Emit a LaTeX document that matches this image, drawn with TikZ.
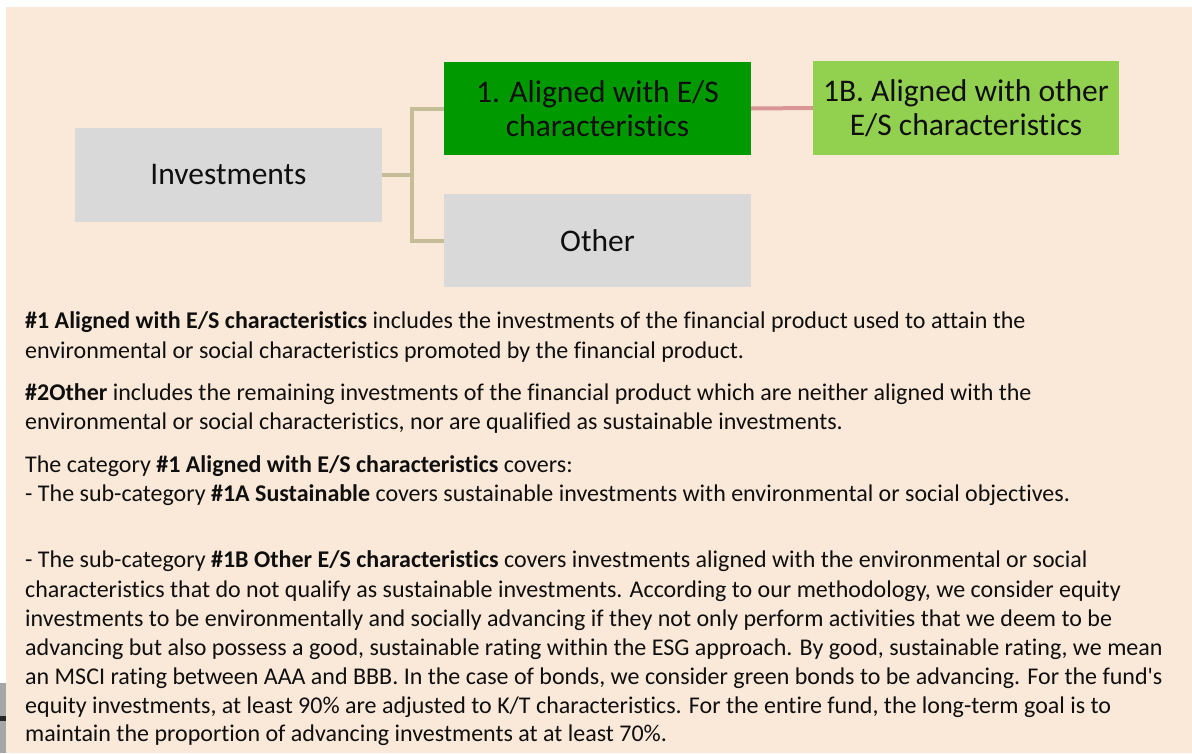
\documentclass[tikz,border=0pt]{standalone}
\usepackage{fontspec}
\setmainfont{Carlito}[Ligatures={CommonOff,TeXOff}]
\usetikzlibrary{calc}
\definecolor{bgpeach}{RGB}{250,232,216}
\definecolor{boxgray}{RGB}{217,217,217}
\definecolor{darkgreen}{RGB}{0,153,0}
\definecolor{lightgreen}{RGB}{146,208,80}
\definecolor{tanline}{RGB}{196,189,151}
\definecolor{pinkline}{RGB}{217,150,148}
\definecolor{txt}{RGB}{15,15,15}
\begin{document}
\begin{tikzpicture}[x=1pt,y=-1pt,
  boxnode/.style={minimum width=307pt,minimum height=93pt,inner sep=0pt,align=center,
    text=txt,font=\fontsize{31.5}{33.5}\selectfont},
  bodyline/.style={anchor=base west,inner sep=0pt,text=txt,font=\fontsize{24}{29}\selectfont},
  tanconn/.style={draw=tanline,line width=4pt},
  pinkconn/.style={draw=pinkline,line width=4pt}]
\useasboundingbox (0,0) rectangle (1192,753);
\fill[white] (0,0) rectangle (1192,753);
\fill[bgpeach] (6,7) rectangle (1192,753);
% small flag fragment at bottom left
\fill[gray!70] (0,683) rectangle (6,753);
\fill[gray!30!black] (0,716) rectangle (6,721);

\node[boxnode,fill=boxgray,minimum height=94pt] (inv) at (228.5,174.5) {Investments};
\node[boxnode,fill=darkgreen] (al) at (597.5,108.5) {1. Aligned with E/S\\characteristics};
\node[boxnode,fill=boxgray] (oth) at (597.5,240.5) {Other};
\node[boxnode,fill=lightgreen,minimum width=306pt,minimum height=94pt] (b1) at (966,108) {1B. Aligned with other\\E/S characteristics};

\coordinate (j) at ($(inv.east)+(30,0)$);
\draw[tanconn] (inv.east) -- (j);
\draw[tanconn] (al.west) -| (j) |- (oth.west);
\draw[pinkconn] (al.east) -- (b1.west);

\node[bodyline] (t1) at (25,328) {\textbf{\#1 Aligned with E/S characteristics} includes the investments of the financial product used to attain the};
\node[bodyline] (t2) at (25,358) {environmental or social characteristics promoted by the financial product.};
\node[bodyline] (t3) at (25,400) {\textbf{\#2Other} includes the remaining investments of the financial product which are neither aligned with the};
\node[bodyline] (t4) at (25,429) {environmental or social characteristics, nor are qualified as sustainable investments.};
\node[bodyline] (t5) at (25,472) {The category \textbf{\#1 Aligned with E/S characteristics} covers:};
\node[bodyline] (t6) at (25,501) {- The sub-category \textbf{\#1A Sustainable} covers sustainable investments with environmental or social objectives.};
\node[bodyline] (t7) at (25,567) {- The sub-category \textbf{\#1B Other E/S characteristics} covers investments aligned with the environmental or social};
\node[bodyline] (t8) at (25,597) {characteristics that do not qualify as sustainable investments. According to our methodology, we consider equity};
\node[bodyline] (t9) at (25,626) {investments to be environmentally and socially advancing if they not only perform activities that we deem to be};
\node[bodyline] (t10) at (25,655) {advancing but also possess a good, sustainable rating within the ESG approach. By good, sustainable rating, we mean};
\node[bodyline] (t11) at (25,684) {an MSCI rating between AAA and BBB. In the case of bonds, we consider green bonds to be advancing. For the fund's};
\node[bodyline] (t12) at (25,713) {equity investments, at least 90\% are adjusted to K/T characteristics. For the entire fund, the long-term goal is to};
\node[bodyline] (t13) at (25,741) {maintain the proportion of advancing investments at at least 70\%.};
\end{tikzpicture}
\end{document}
